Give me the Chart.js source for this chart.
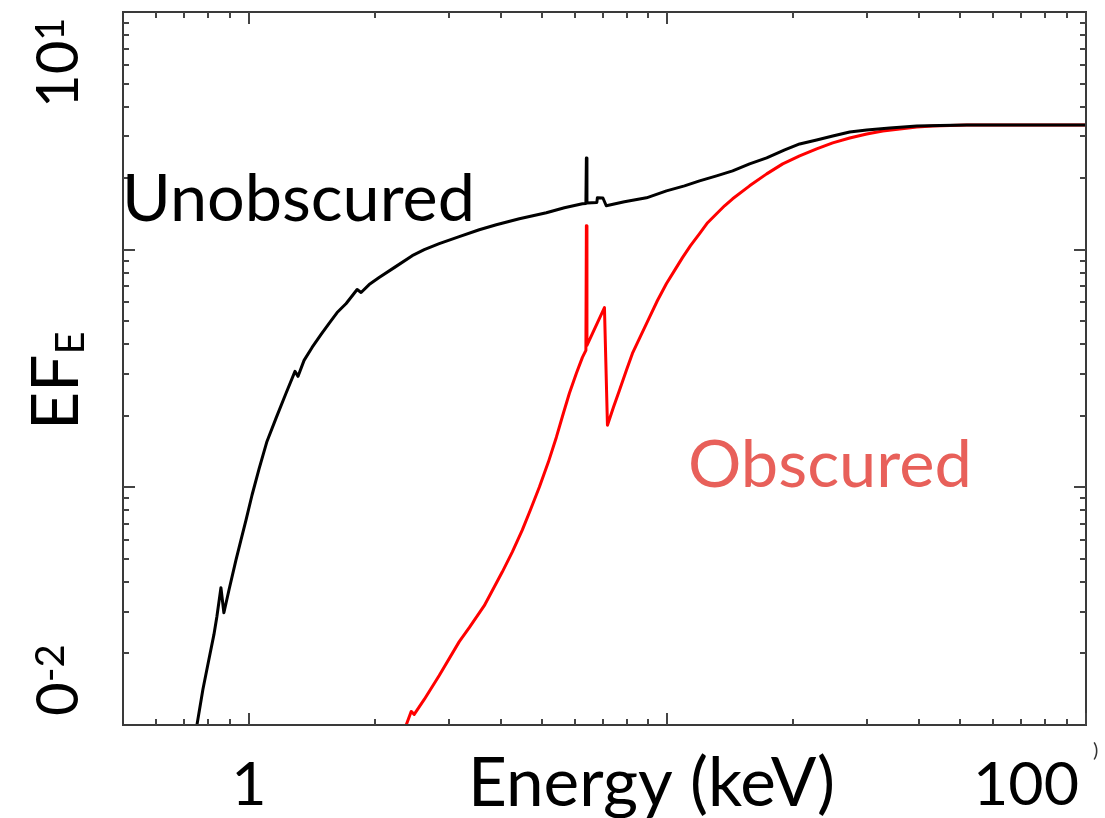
<!DOCTYPE html>
<html><head><meta charset="utf-8">
<script src="https://cdn.jsdelivr.net/npm/chart.js@4/dist/chart.umd.min.js"></script>
<style>html,body{margin:0;padding:0;background:#fff;} #wrap{width:1105px;height:818px;position:relative;}</style>
</head><body><div id="wrap"><canvas id="c"></canvas></div>
<script>
// ---- data (energy in keV, EF_E) ----
const unobscuredEnergy = [0.751,0.776,0.802,0.8245,0.838,0.857,0.871,0.896,0.931,0.957,0.984,1.017,1.057,1.104,1.160,1.226,1.288,1.310,1.354,1.415,1.487,1.554,1.624,1.707,1.813,1.853,1.937,2.046,2.223,2.455,2.623,2.848,3.180,3.550,3.899,4.426,5.135,5.670,6.262,6.383,6.40,6.42,6.78,6.80,7.01,7.14,7.889,8.908,9.945,10.98,11.93,13.10,14.31,15.71,17.26,19.06,20.69,22.72,24.82,27.25,29.93,33.97,39.42,44.76,51.93,100];
const unobscuredFlux   = [0.01,0.0141,0.01885,0.024,0.02855,0.03779,0.02968,0.03707,0.04953,0.06009,0.0729,0.09283,0.1195,0.1560,0.1950,0.2487,0.3076,0.2931,0.3421,0.3879,0.4397,0.4893,0.5439,0.5934,0.6796,0.6602,0.713,0.763,0.8403,0.9437,1.0,1.0597,1.1338,1.2131,1.2733,1.3494,1.4299,1.5006,1.5598,1.565,2.432,1.57,1.58,1.653,1.65,1.53,1.5902,1.6528,1.7684,1.8559,1.9477,2.044,2.1451,2.2959,2.4325,2.6283,2.7857,2.8955,3.0095,3.1281,3.1891,3.2513,3.3148,3.3308,3.347,3.347];
const obscuredEnergy = [2.375,2.441,2.482,2.623,2.848,3.180,3.360,3.649,4.031,4.259,4.500,4.703,4.942,5.192,5.426,5.639,5.829,6.058,6.262,6.383,6.40,6.42,7.069,7.187,7.428,7.678,7.977,8.245,8.617,9.055,9.463,9.945,10.39,10.86,11.35,11.93,12.47,13.10,13.69,14.31,15.71,17.26,18.85,20.69,22.72,24.82,27.25,29.93,32.69,35.90,39.42,43.06,47.28,51.93,100];
const obscuredFlux   = [0.01,0.011404,0.011078,0.012808,0.016148,0.02243,0.025677,0.031762,0.044114,0.053535,0.066198,0.080306,0.10029,0.12771,0.16257,0.20495,0.24871,0.3018,0.3522,0.37686,1.2609,0.39554,0.57088,0.1826,0.21729,0.25603,0.31058,0.3661,0.43146,0.51847,0.61103,0.72,0.81628,0.92561,1.0394,1.1672,1.2981,1.4161,1.5299,1.6368,1.8559,2.084,2.2959,2.48,2.6535,2.8127,2.9512,3.0681,3.1578,3.2194,3.2822,3.3148,3.3308,3.347,3.347];
const xMajorTicks = [1, 10, 100];
const xMinorTicks = [0.6,0.7,0.8,0.9,2,3,4,5,6,7,8,9,20,30,40,50,60,70,80,90];
const yMajorTicks = [0.1, 1];
const yMinorTicks = [0.02,0.03,0.04,0.05,0.06,0.07,0.08,0.09,0.2,0.3,0.4,0.5,0.6,0.7,0.8,0.9,2,3,4,5,6,7,8,9];
const xTickLabels = ['1', '100'];
const xAxisTitle = 'Energy (keV)';
const seriesNames = ['Unobscured', 'Obscured'];

const FONT = 'Lato';
function toXY(xs, ys){ return xs.map((x,i)=>({x:x, y:ys[i]})); }

function fitSize(ctx, text, width, weight){
  ctx.font = (weight||'') + ' 100px ' + FONT;
  return 100 * width / ctx.measureText(text).width;
}

const decor = {
  id: 'decor',
  afterDraw(chart){
    const ctx = chart.ctx, a = chart.chartArea;
    const xs = chart.scales.x, ys = chart.scales.y;
    ctx.save();
    // frame
    ctx.strokeStyle = '#3a3a3a'; ctx.lineWidth = 2;
    ctx.strokeRect(a.left, a.top, a.right - a.left, a.bottom - a.top);
    // inward ticks
    ctx.lineWidth = 2; ctx.strokeStyle = '#444';
    const drawX = (v, len) => { const p = Math.round(xs.getPixelForValue(v));
      ctx.beginPath(); ctx.moveTo(p, a.bottom); ctx.lineTo(p, a.bottom - len);
      ctx.moveTo(p, a.top); ctx.lineTo(p, a.top + len); ctx.stroke(); };
    const drawY = (v, len) => { const p = Math.round(ys.getPixelForValue(v));
      ctx.beginPath(); ctx.moveTo(a.left, p); ctx.lineTo(a.left + len, p);
      ctx.moveTo(a.right, p); ctx.lineTo(a.right - len, p); ctx.stroke(); };
    xMinorTicks.forEach(v => drawX(v, 6)); xMajorTicks.forEach(v => drawX(v, 12));
    yMinorTicks.forEach(v => drawY(v, 6)); yMajorTicks.forEach(v => drawY(v, 12));

    // series labels
    ctx.textBaseline = 'alphabetic'; ctx.textAlign = 'left';
    let s = fitSize(ctx, seriesNames[0], 353);
    ctx.font = s + 'px ' + FONT; ctx.fillStyle = '#000';
    ctx.fillText(seriesNames[0], 122, 221);
    s = fitSize(ctx, seriesNames[1], 284);
    ctx.font = s + 'px ' + FONT; ctx.fillStyle = '#E8605A';
    ctx.fillText(seriesNames[1], 688, 487);

    // x axis labels
    ctx.fillStyle = '#000';
    s = fitSize(ctx, xAxisTitle, 367);
    ctx.font = s + 'px ' + FONT;
    ctx.fillText(xAxisTitle, 468, 806);
    s = fitSize(ctx, xTickLabels[1], 106);
    ctx.font = s + 'px ' + FONT;
    ctx.textAlign = 'center';
    ctx.fillText(xTickLabels[0], xs.getPixelForValue(1), 805);
    ctx.textAlign = 'left';
    ctx.fillText(xTickLabels[1], 973, 805);
    ctx.font = '20px ' + FONT; ctx.fillStyle = '#333';
    ctx.fillText(')', 1093, 757);

    // rotated y labels
    const rot = (x, y, parts) => {
      ctx.save(); ctx.translate(x, y); ctx.rotate(-Math.PI/2);
      ctx.fillStyle = '#000'; ctx.textAlign = 'left';
      let cx = 0;
      parts.forEach(p => { ctx.font = p.size + 'px ' + FONT; ctx.fillText(p.t, cx, p.dy || 0); cx += ctx.measureText(p.t).width; });
      ctx.restore();
    };
    rot(78, 108, [{t:'10', size:58}, {t:'1', size:40, dy:-14}]);
    rot(78, 430, [{t:'EF', size:66}, {t:'E', size:40, dy:6}]);
    rot(78, 716, [{t:'0', size:58}, {t:'-2', size:40, dy:-14}]);
    ctx.restore();
  }
};

new Chart(document.getElementById('c'), {
  type: 'line',
  data: { datasets: [
    { label: seriesNames[0], data: toXY(unobscuredEnergy, unobscuredFlux), borderColor: '#000', borderWidth: 3, pointRadius: 0, tension: 0, borderJoinStyle: 'round', order: 0 },
    { label: seriesNames[1], data: toXY(obscuredEnergy, obscuredFlux), borderColor: '#ff0000', borderWidth: 3, pointRadius: 0, tension: 0, borderJoinStyle: 'round', order: 1 }
  ]},
  options: {
    responsive: true, maintainAspectRatio: false, animation: false,
    layout: { padding: { left: 123, top: 12, right: 19, bottom: 93 } },
    plugins: { legend: { display: false }, tooltip: { enabled: false } },
    scales: {
      x: { type: 'logarithmic', display: false, min: 0.5, max: 100 },
      y: { type: 'logarithmic', display: false, min: 0.01, max: 10 }
    }
  },
  plugins: [decor]
});
</script></body></html>
